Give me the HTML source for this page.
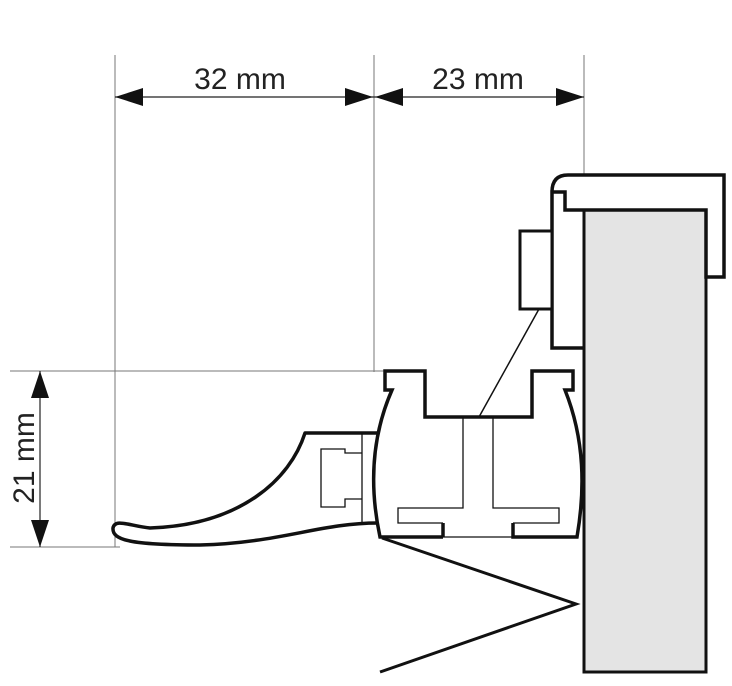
<!DOCTYPE html>
<html><head><meta charset="utf-8"><style>html,body{margin:0;padding:0;background:#fff}svg{display:block}</style></head>
<body>
<svg width="732" height="686" viewBox="0 0 732 686" xmlns="http://www.w3.org/2000/svg">
<g stroke="#777" stroke-width="1" fill="none">
<line x1="115" y1="55" x2="115" y2="547"/>
<line x1="374" y1="55" x2="374" y2="372"/>
<line x1="584" y1="55" x2="584" y2="210"/>
<line x1="10" y1="371" x2="385" y2="371"/>
<line x1="10" y1="547" x2="120" y2="547"/>
</g>
<g stroke="#222" stroke-width="1.2">
<line x1="115" y1="97" x2="584" y2="97"/>
<line x1="40" y1="371" x2="40" y2="547"/>
</g>
<g fill="#111">
<polygon points="115,97 143,88 143,106"/>
<polygon points="373,97 345,88 345,106"/>
<polygon points="375,97 403,88 403,106"/>
<polygon points="584,97 556,88 556,106"/>
<polygon points="40,371 31,398 49,398"/>
<polygon points="40,547 31,520 49,520"/>
</g>
<g font-family="Liberation Sans, sans-serif" font-size="30" fill="#222" text-anchor="middle">
<text x="240" y="89">32 mm</text>
<text x="478" y="89">23 mm</text>
<text transform="translate(34,458) rotate(-90)">21 mm</text>
</g>
<rect x="584" y="210" width="122" height="462" fill="#e4e4e4" stroke="#111" stroke-width="3"/>
<path d="M584,348 L552,348 L552,192 L565,192 L565,210 L706,210 L706,277 L724,277 L724,175 L568,175 Q552,175 552,192" fill="#fff" stroke="#111" stroke-width="3.5" stroke-linejoin="miter"/>
<line x1="584" y1="210" x2="584" y2="348" stroke="#111" stroke-width="3"/>
<rect x="520" y="231" width="32" height="78" fill="#fff" stroke="#111" stroke-width="3"/>
<line x1="539" y1="309" x2="479" y2="417" stroke="#111" stroke-width="1.5"/>
<path d="M382,538 L576,604 L380,672" fill="none" stroke="#111" stroke-width="3"/>
<path d="M377,433 L305,433 C290,480 240,525 150,528 C130,526 115,518 113,528 C112,540 130,545 200,545 C280,543 320,523 378,523" fill="#fff" stroke="#111" stroke-width="3.5" stroke-linejoin="round"/>
<g stroke="#111" stroke-width="1.3" fill="none">
<line x1="362" y1="433" x2="362" y2="523"/>
<path d="M362,453 L345,453 L345,449 L321,449 L321,507 L345,507 L345,499 L362,499"/>
</g>
<path d="M380,537 C370,490 370,440 392,390 L385,390 L385,371 L425,371 L425,417 L532,417 L532,371 L573,371 L573,390 L565,390 C585,440 585,490 577,537 L513,537 L513,523 L559,523 L559,508 L493,508 L493,417 L463,417 L463,508 L398,508 L398,523 L443,523 L443,537 Z" fill="#fff" stroke="none"/>
<path d="M443,537 L380,537 C370,490 370,440 392,390 L385,390 L385,371 L425,371 L425,417 L532,417 L532,371 L573,371 L573,390 L565,390 C585,440 585,490 577,537 L513,537 L513,523" fill="none" stroke="#111" stroke-width="3.5" stroke-linejoin="miter"/>
<path d="M443,537 L443,523" fill="none" stroke="#111" stroke-width="3.5"/>
<path d="M443,523 L398,523 L398,508 L463,508 L463,417 M493,417 L493,508 L559,508 L559,523 L513,523 M443,537 L513,537" fill="none" stroke="#111" stroke-width="1.3"/>
</svg>
</body></html>
